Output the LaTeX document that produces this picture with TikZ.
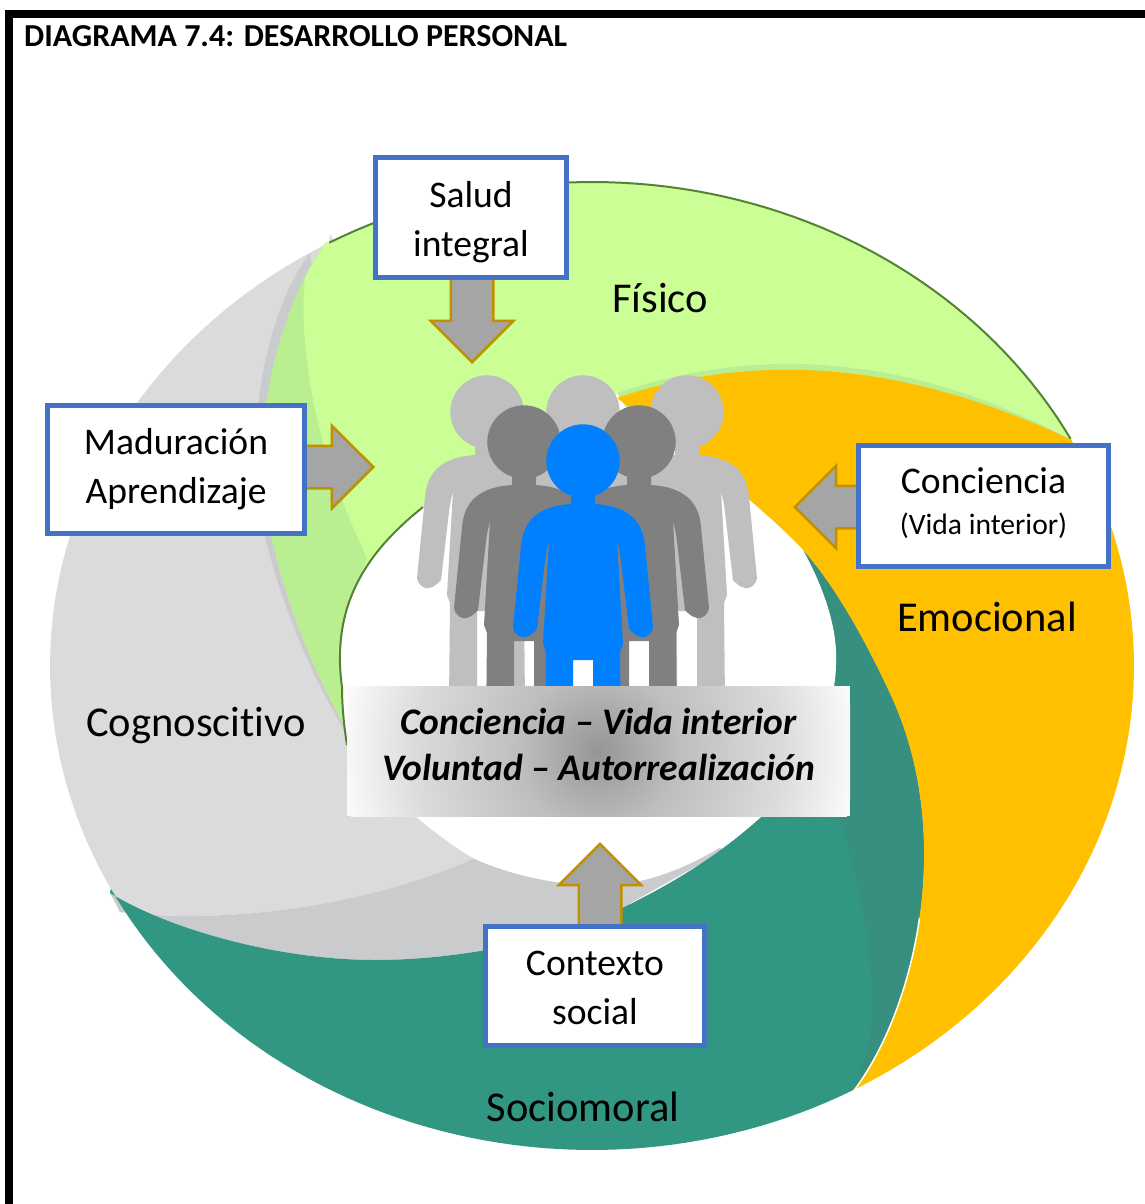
\documentclass[tikz,border=0pt]{standalone}
\usepackage{fontspec}
\setmainfont{Carlito}[Ligatures={TeX,NoCommon}]
\usepackage{xcolor}
\usepackage{tikz}
\usetikzlibrary{shapes.arrows}
\definecolor{ringgray}{HTML}{DBDBDB}
\definecolor{ringgraydark}{HTML}{CACBCD}
\definecolor{ringgreen}{HTML}{CBFF96}
\definecolor{ringgreendark}{HTML}{B9EE91}
\definecolor{ringline}{HTML}{548235}
\definecolor{ringorange}{HTML}{FFC000}
\definecolor{ringteal}{HTML}{319682}
\definecolor{ringtealdark}{HTML}{378F80}
\definecolor{boxblue}{HTML}{4472C4}
\definecolor{arrowfill}{HTML}{A5A5A5}
\definecolor{arrowline}{HTML}{BF9000}
\definecolor{personblue}{HTML}{0080FF}
\definecolor{persondark}{HTML}{808080}
\definecolor{personlight}{HTML}{BFBFBF}
\definecolor{glowcenter}{HTML}{969696}
\definecolor{glowmid}{HTML}{BEBEBE}
\definecolor{glowouter}{HTML}{DCDCDC}
\definecolor{glowedge}{HTML}{FAFAFA}
\pgfdeclareradialshading{boxglow}{\pgfpointorigin}{color(0bp)=(glowcenter); color(80bp)=(glowmid); color(185bp)=(glowouter); color(255bp)=(glowedge)}
\tikzstyle{node:box}=[rectangle,draw=boxblue,line width=5pt,fill=white,inner sep=0pt,align=center,font=\fontsize{37.6}{49}\selectfont]
\tikzstyle{node:area}=[inner sep=0pt,font=\fontsize{42.5}{50}\selectfont]
\tikzstyle{node:arrow}=[single arrow,draw=arrowline,fill=arrowfill,line width=2.5pt,inner sep=20pt,single arrow head indent=0pt,single arrow head extend=20pt,anchor=tip]
\tikzstyle{node:glow}=[rectangle,fill=glowedge,inner sep=0pt,minimum width=503pt,minimum height=130pt,path picture={\node[inner sep=0pt] at (path picture bounding box.center) {\pgfuseshading{boxglow}};}]
\tikzstyle{node:glowtext}=[inner sep=0pt,align=center,font=\fontsize{37.5}{46}\selectfont\bfseries\itshape]
\newcommand{\drawperson}[3]{%
        \fill[#3,shift={(#1,#2)}] (0,0) circle (36.7pt);
        \fill[#3,shift={(#1,#2)}] (-12,25) -- (-12,43) .. controls (-45,45) and (-60,60) .. (-62,85)
            -- (-70,166) .. controls (-70,172) and (-62,178) .. (-58,176) .. controls (-52,175) and (-48,170) .. (-46,168)
            -- (-38,100) .. controls (-37,90) and (-35,84) .. (-34,79) -- (-40,183) -- (-37,191) -- (-38,290) -- (-10,290)
            -- (-10,199) -- (10,199) -- (10,290) -- (38,290) -- (37,191) -- (40,183) -- (34,79)
            .. controls (35,84) and (37,90) .. (38,100) -- (46,168) .. controls (48,170) and (52,175) .. (58,176)
            .. controls (62,178) and (70,172) .. (70,166) -- (62,85) .. controls (60,60) and (45,45) .. (12,43) -- (12,25) -- cycle;
}
\begin{document}
\begin{tikzpicture}[x=1pt,y=-1pt]
        \useasboundingbox (0,0) rectangle (1145,1204);

        % Frame (top and left only)
        \fill[black] (5,10) rectangle (1145,18);
        \fill[black] (5,10) rectangle (13,1204);

        % Cognoscitivo
        \fill[ringgray] plot[domain=241:152.6,samples=60] ({592+542*cos(\x)},{666+484*sin(\x)})
            -- (120,912) .. controls (230,925) and (370,905) .. (475,858) -- (600,700) -- (330,234) -- cycle;
        \fill[ringgraydark] (120,912) .. controls (230,925) and (370,905) .. (475,858) -- (600,800) -- (725,850) -- (622,908)
            .. controls (560,940) and (460,960) .. (375,960) .. controls (280,960) and (170,930) .. (110,893) -- cycle;
        \fill[ringgraydark] (347,735) .. controls (290,640) and (255,530) .. (255,460) .. controls (255,380) and (275,300) .. (310,253)
            -- (340,450) -- cycle;

        % Sociomoral
        \fill[ringteal] plot[domain=152.6:61.2,samples=60] ({592+542*cos(\x)},{666+484*sin(\x)})
            .. controls (915,1010) and (955,840) .. (893,700) .. controls (868,645) and (835,585) .. (803,550) -- (840,720) -- (762,816)
            .. controls (720,855) and (670,885) .. (622,908) .. controls (560,940) and (460,960) .. (375,960)
            .. controls (280,960) and (170,930) .. (110,893) -- cycle;
        \fill[ringtealdark] (853,1092) .. controls (915,1010) and (955,840) .. (893,700) .. controls (868,645) and (835,585) .. (803,550)
            -- (835,650) -- (838,815) .. controls (860,880) and (880,980) .. (868,1050) -- cycle;

        % Fisico
        \fill[ringgreen] plot[domain=241:332,samples=60] ({592+542*cos(\x)},{666+484*sin(\x)})
            .. controls (960,380) and (800,330) .. (617,393) -- (423,505) -- (347,730)
            .. controls (295,640) and (262,530) .. (262,460) .. controls (262,390) and (285,300) .. (326,242) -- cycle;
        \fill[ringgreendark] (347,730) .. controls (295,640) and (262,530) .. (262,460) .. controls (262,390) and (285,300) .. (326,242)
            -- (305,275) .. controls (298,350) and (315,450) .. (367,558) -- (351,598) -- (338,650) -- (344,720) -- cycle;
        \fill[ringgreendark] (1070,439) .. controls (960,380) and (800,330) .. (617,393) -- (640,430) -- cycle;
        \draw[ringline,line width=2pt] plot[domain=241:332,samples=60] ({592+542*cos(\x)},{666+484*sin(\x)});

        % Emocional
        \fill[ringorange] plot[domain=-28:61.2,samples=60] ({592+542*cos(\x)},{666+484*sin(\x)})
            .. controls (915,1010) and (955,840) .. (893,700) .. controls (868,645) and (835,585) .. (803,550)
            .. controls (770,515) and (700,460) .. (617,398) .. controls (800,336) and (960,388) .. (1072,440) -- cycle;
        \draw[white,line width=1.5pt] (853,1092) .. controls (884,1051) and (909.5,988) .. (919.5,918);

        % Centre
        \fill[white] (347,745) .. controls (343,720) and (342,700) .. (342,687) .. controls (330,600) and (372,548) .. (423,507)
            -- (445,487) -- (500,460) -- (583,445) -- (680,445) .. controls (720,475) and (770,515) .. (803,550)
            .. controls (825,590) and (838,630) .. (836,665) .. controls (835,720) and (800,785) .. (762,816)
            .. controls (730,845) and (680,875) .. (625,884) .. controls (570,890) and (510,875) .. (475,859)
            .. controls (440,840) and (380,790) .. (347,745) -- cycle;
        \draw[ringline,line width=2pt] (347,745) .. controls (343,720) and (342,700) .. (342,687) .. controls (330,600) and (372,548) .. (423,507);

        % People
        \foreach \px/\py in {487/412,583/412,687/412} {
                \drawperson{\px}{\py}{personlight}
            }
        \foreach \px/\py in {524/442,639/442} {
                \drawperson{\px}{\py}{persondark}
            }
        \drawperson{583}{461}{personblue}

        % Block arrows
        \node[node:arrow,minimum height=89pt,shape border rotate=270] (A-salud) at (472,364) {};
        \node[node:arrow,minimum height=74pt,shape border rotate=0] (A-maduracion) at (375,467) {};
        \node[node:arrow,minimum height=68pt,shape border rotate=180] (A-conciencia) at (793,507) {};
        \node[node:arrow,minimum height=90pt,shape border rotate=90] (A-contexto) at (600,842) {};

        % Boxes
        \node[node:box,minimum width=191pt,minimum height=120pt] (B-salud) at (471,217.5) {\rule{0pt}{35pt}Salud\\integral};
        \node[node:box,minimum width=257pt,minimum height=128pt] (B-maduracion) at (176,469.5) {Maduración\\Aprendizaje};
        \node[node:box,minimum width=250pt,minimum height=121pt] (B-conciencia) at (983.5,506) {Conciencia\\[-8pt]{\fontsize{29.6}{40}\selectfont (Vida interior)\rule[-9pt]{0pt}{1pt}}};
        \node[node:box,minimum width=219pt,minimum height=119pt] (B-contexto) at (595,986) {\rule{0pt}{29pt}Contexto\\social};

        % Centre label
        \node[node:glow] (N-centro) at (598.5,751) {};
        \node[node:glowtext] (T-centro) at (598.5,744.5) {Conciencia -- Vida interior\\Voluntad -- Autorrealización};

        % Labels
        \node[node:area] (L-fisico) at (660,298) {Físico};
        \node[node:area] (L-emocional) at (987,617) {Emocional};
        \node[node:area] (L-cognoscitivo) at (196,726) {Cognoscitivo};
        \node[node:area] (L-sociomoral) at (583,1107) {Sociomoral};
        \node[anchor=west,inner sep=0pt,font=\fontsize{32}{38}\selectfont\bfseries] (L-titulo) at (24,36) {DIAGRAMA 7.4: DESARROLLO PERSONAL};
    \end{tikzpicture}
\end{document}
